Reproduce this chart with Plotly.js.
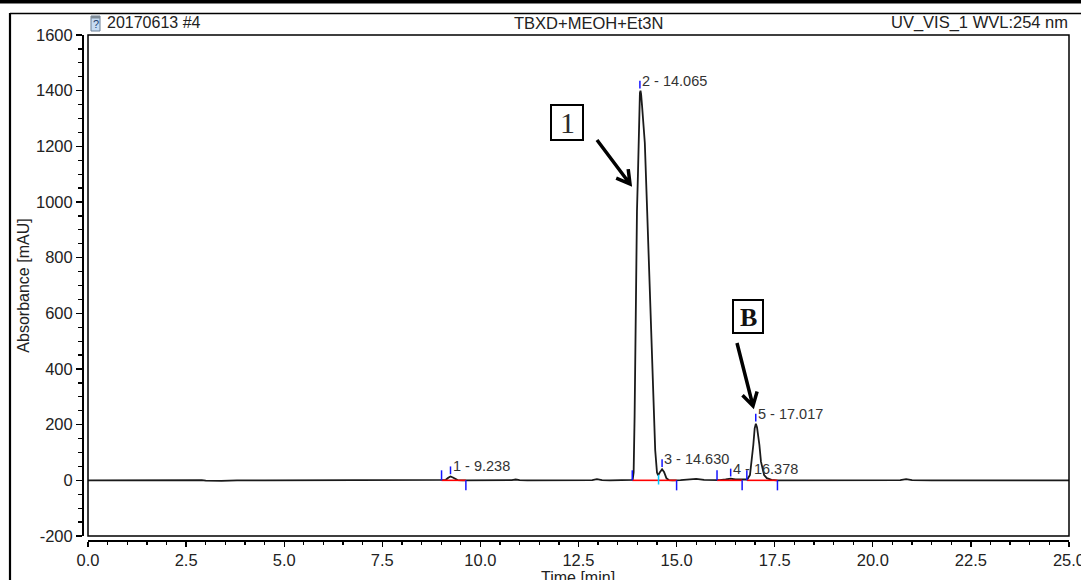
<!DOCTYPE html>
<html>
<head>
<meta charset="utf-8">
<script src="https://cdn.plot.ly/plotly-3.0.1.min.js"></script>
<style>html,body{margin:0;padding:0;background:#fff;overflow:hidden}#chart{width:1081px;height:580px}</style>
</head>
<body>
<div id="chart"></div>
<script>
// ---- chromatogram data ----
const time = [
  0.0, 0.5, 1.0, 1.5, 2.0, 2.5, 2.7, 2.8, 2.9, 3.0,
  3.2, 3.4, 3.6, 3.8, 4.5, 5.5, 6.5, 7.5, 8.5, 9.05,
  9.12, 9.18, 9.238, 9.30, 9.36, 9.42, 9.55, 10.5, 10.8, 10.9,
  11.0, 11.2, 12.5, 12.85, 12.97, 13.1, 13.3, 13.80, 13.88, 13.905,
  13.92, 13.93, 13.95, 13.965, 13.99, 14.015, 14.035, 14.05, 14.065, 14.08,
  14.095, 14.12, 14.15, 14.19, 14.25, 14.31, 14.37, 14.43, 14.455, 14.50,
  14.53, 14.57, 14.63, 14.68, 14.74, 14.80, 14.90, 15.1, 15.3, 15.5,
  15.7, 15.9, 16.1, 16.25, 16.38, 16.5, 16.65, 16.75, 16.80, 16.87,
  16.91, 16.955, 16.99, 17.02, 17.05, 17.08, 17.11, 17.15, 17.20, 17.23,
  17.30, 17.42, 17.55, 18.0, 18.5, 18.7, 18.9, 19.2, 20.0, 20.7,
  20.85, 21.0, 21.5, 22.5, 23.5, 24.0, 25.0
];
const absorbance = [
  0, 0.5, 0, 0.5, 0, 0, 1, 3, 1, -1,
  -2, -2, -1, 0, 0, 0.5, 0, 0, 0, 0,
  2, 9, 14, 10, 4, 1, 0, 0, 1, 3,
  1, 0, 0, 1, 4, 1, 0, 0, 2, 28,
  108, 231, 476, 721, 967, 1100, 1212, 1340, 1392, 1400,
  1388, 1345, 1280, 1212, 967, 721, 476, 231, 108, 28,
  18, 28, 40, 30, 8, 1, 0, 1, 4, 5,
  2, 1, 1, 3, 6, 3, 2, 2, 3, 19,
  67, 127, 187, 203, 190, 160, 127, 67, 30, 19,
  8, 2, 0, 0, 1, -1, 1, 0, 0, 1,
  4, 1, 0, 0, 0.5, 0, 0
];

// ---- peak table ----
const peakLabels = ['1 - 9.238', '2 - 14.065', '3 - 14.630', '4 - 16.378', '5 - 17.017'];
const apexTime   = [9.238, 14.065, 14.630, 16.378, 17.017];
const apexHeight = [14, 1400, 40, 6, 203];
const startTime  = [9.01, 13.87, 14.54, 16.03, 16.79];
const endTime    = [9.63, 14.54, 15.00, 16.67, 17.57];
const upTicks     = [9.01, 13.87, 16.03, 16.79];
const downTicks   = [9.63, 15.00, 16.67, 17.57];
const valleyTicks = [14.54];

// ---- axis ticks ----
const yTickVals = [-200, 0, 200, 400, 600, 800, 1000, 1200, 1400, 1600];
const yTickText = ['-200', '0', '200', '400', '600', '800', '1000', '1200', '1400', '1600'];

// ---- header texts ----
const headerLeft = '20170613 #4';
const headerMid = 'TBXD+MEOH+Et3N';
const headerRight = 'UV_VIS_1 WVL:254 nm';
const xTitle = 'Time [min]';
const yTitle = 'Absorbance [mAU]';

// ---- geometry helpers (pixel -> paper) ----
const ML = 82, MT = 35, PW = 987, PH = 505;
const px = x => (x - ML) / PW;
const py = y => (MT + PH - y) / PH;

function segs(pairs) {
  const xs = [], ys = [];
  pairs.forEach(p => { xs.push(p[0], p[2], null); ys.push(p[1], p[3], null); });
  return {x: xs, y: ys};
}
const TL = 36;
const redSeg = segs(startTime.map((s, i) => [s, 0, endTime[i], 0]));
const blueSeg = segs(
  upTicks.map(t => [t, 0, t, TL])
    .concat(downTicks.map(t => [t, 0, t, -TL]))
    .concat(apexTime.map((t, i) => [t, apexHeight[i] + 8, t, apexHeight[i] + 36]))
);
const cyanSeg = segs(valleyTicks.map(t => [t, 20, t, -15]));

const F = 'Liberation Sans, Arial, sans-serif';

const traces = [
  {x: time, y: absorbance, type: 'scatter', mode: 'lines',
   line: {color: '#1a1a1a', width: 1.8}, hoverinfo: 'skip'},
  {x: redSeg.x, y: redSeg.y, type: 'scatter', mode: 'lines',
   line: {color: '#ff0000', width: 1.6}, hoverinfo: 'skip'},
  {x: blueSeg.x, y: blueSeg.y, type: 'scatter', mode: 'lines',
   line: {color: '#1515ff', width: 1.5}, hoverinfo: 'skip'},
  {x: cyanSeg.x, y: cyanSeg.y, type: 'scatter', mode: 'lines',
   line: {color: '#00c8ff', width: 1.5}, hoverinfo: 'skip'}
];

const annotations = [
  {text: headerLeft, xref: 'paper', yref: 'paper', x: px(107), y: py(23), xanchor: 'left', yanchor: 'middle',
   showarrow: false, font: {family: F, size: 16, color: '#222'}, borderpad: 0, borderwidth: 0},
  {text: headerMid, xref: 'paper', yref: 'paper', x: px(588), y: py(23), xanchor: 'center', yanchor: 'middle',
   showarrow: false, font: {family: F, size: 16.5, color: '#222'}, borderpad: 0, borderwidth: 0},
  {text: headerRight, xref: 'paper', yref: 'paper', x: px(1068), y: py(23), xanchor: 'right', yanchor: 'middle',
   showarrow: false, font: {family: F, size: 16.5, color: '#222'}, borderpad: 0, borderwidth: 0},
  {text: '?', xref: 'paper', yref: 'paper', x: px(95.5), y: py(24.5), xanchor: 'center', yanchor: 'middle',
   showarrow: false, font: {family: F, size: 11, color: '#23406e'}, borderpad: 0, borderwidth: 0},
  {text: '1', xref: 'paper', yref: 'paper', x: px(567), y: py(122.5), xanchor: 'center', yanchor: 'middle',
   showarrow: false, font: {family: 'Liberation Serif, Times New Roman, serif', size: 30, color: '#2b2b2b'}, borderpad: 0, borderwidth: 0},
  {text: '<b>B</b>', xref: 'paper', yref: 'paper', x: px(748), y: py(317), xanchor: 'center', yanchor: 'middle',
   showarrow: false, font: {family: 'Liberation Serif, Times New Roman, serif', size: 26, color: '#111'}, borderpad: 0, borderwidth: 0},
  {text: xTitle, xref: 'paper', yref: 'paper', x: px(578), y: py(577), xanchor: 'center', yanchor: 'middle',
   showarrow: false, font: {family: F, size: 16, color: '#222'}, borderpad: 0, borderwidth: 0}
];
peakLabels.forEach((lab, i) => {
  annotations.push({text: lab, xref: 'x', yref: 'y', x: apexTime[i], y: apexHeight[i] + 36,
    xanchor: 'left', yanchor: 'middle', xshift: 2, showarrow: false,
    font: {family: F, size: 14.5, color: '#333'}, borderpad: 0, borderwidth: 0});
});

const arrow1 = `M ${px(597)} ${py(140)} L ${px(630)} ${py(184)} M ${px(628.2)} ${py(169.1)} L ${px(630)} ${py(184)} L ${px(616.2)} ${py(178.1)}`;
const arrowB = `M ${px(737)} ${py(343)} L ${px(753)} ${py(406)} M ${px(757.1)} ${py(391.6)} L ${px(753)} ${py(406)} L ${px(742.5)} ${py(395.3)}`;

const shapes = [
  {type: 'rect', xref: 'paper', yref: 'paper', x0: px(0), x1: px(1081), y0: py(3.5), y1: py(0),
   fillcolor: '#000', line: {width: 0}},
  {type: 'line', xref: 'paper', yref: 'paper', x0: px(10), x1: px(1081), y0: py(13.5), y1: py(13.5),
   line: {color: '#000', width: 1.5}},
  {type: 'line', xref: 'paper', yref: 'paper', x0: px(10), x1: px(10), y0: py(13), y1: py(580),
   line: {color: '#000', width: 2.2}},
  {type: 'rect', xref: 'x domain', yref: 'y domain', x0: 0, x1: 1, y0: 0, y1: 1,
   line: {color: '#000', width: 1.5}, fillcolor: 'rgba(0,0,0,0)', layer: 'above'},
  {type: 'rect', xref: 'paper', yref: 'paper', x0: px(91), x1: px(100), y0: py(31), y1: py(16),
   fillcolor: '#c6dcf3', line: {color: '#6a7f95', width: 1}},
  {type: 'rect', xref: 'paper', yref: 'paper', x0: px(91), x1: px(100), y0: py(18.5), y1: py(16),
   fillcolor: '#7d8a96', line: {width: 0}},
  {type: 'rect', xref: 'paper', yref: 'paper', x0: px(551), x1: px(583), y0: py(140), y1: py(105),
   line: {color: '#000', width: 2}, fillcolor: 'rgba(0,0,0,0)'},
  {type: 'rect', xref: 'paper', yref: 'paper', x0: px(733), x1: px(763), y0: py(333), y1: py(300),
   line: {color: '#000', width: 2}, fillcolor: 'rgba(0,0,0,0)'},
  {type: 'path', xref: 'paper', yref: 'paper', path: arrow1, line: {color: '#000', width: 3.5}},
  {type: 'path', xref: 'paper', yref: 'paper', path: arrowB, line: {color: '#000', width: 3.5}}
];

const tickfont = {family: F, size: 16.5, color: '#222'};
const layout = {
  width: 1081, height: 580,
  margin: {l: ML, r: 1081 - ML - PW, t: MT, b: 580 - MT - PH, pad: 0},
  paper_bgcolor: '#fff', plot_bgcolor: '#fff',
  showlegend: false,
  xaxis: {
    domain: [6 / PW, 1], range: [0, 25], anchor: 'free', position: 0,
    showline: true, linecolor: '#000', linewidth: 1.5,
    ticks: 'outside', ticklen: 5, tickwidth: 1.3, tickcolor: '#000',
    tick0: 0, dtick: 2.5, tickformat: '.1f', ticklabeloverflow: 'allow',
    showgrid: false, zeroline: false, tickfont: tickfont,
    minor: {dtick: 0.5, tick0: 0, ticks: 'outside', ticklen: 3.5, tickwidth: 1.3, tickcolor: '#000', showgrid: false}
  },
  yaxis: {
    domain: [4 / PH, 1], range: [-200, 1600], anchor: 'free', position: 0,
    showline: true, linecolor: '#000', linewidth: 1.5,
    ticks: 'outside', ticklen: 6, tickwidth: 1.3, tickcolor: '#000',
    tickmode: 'array', tickvals: yTickVals, ticktext: yTickText, ticklabeloverflow: 'allow',
    showgrid: false, zeroline: false, tickfont: tickfont,
    minor: {dtick: 50, tick0: 0, ticks: 'outside', ticklen: 4, tickwidth: 1.3, tickcolor: '#000', showgrid: false},
    title: {text: yTitle, font: {family: F, size: 16, color: '#222'}, standoff: 1}
  },
  annotations: annotations,
  shapes: shapes
};

Plotly.newPlot('chart', traces, layout, {staticPlot: true, displayModeBar: false});
</script>
</body>
</html>
